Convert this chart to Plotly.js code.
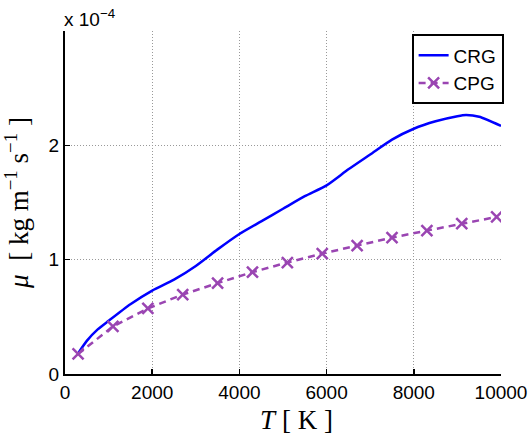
<!DOCTYPE html>
<html>
<head>
<meta charset="utf-8">
<script src="https://cdn.plot.ly/plotly-3.0.1.min.js"></script>
<style>
  html, body { margin: 0; padding: 0; background: #fff; }
  #chart { width: 530px; height: 446px; }
</style>
</head>
<body>
<div id="chart"></div>
<script>
// Viscosity of the gas vs temperature, values in units of 1e-4 kg m^-1 s^-1
const crgT  = [300, 500, 750, 1000, 1500, 2000, 2500, 3000, 3500, 4000, 4500, 5000,
               5500, 6000, 6500, 7000, 7500, 8000, 8500, 9000, 9200, 9500, 10000];
const crgMu = [0.18, 0.29, 0.39, 0.465, 0.61, 0.73, 0.825, 0.945, 1.09, 1.225, 1.335, 1.445,
               1.555, 1.65, 1.79, 1.92, 2.05, 2.145, 2.21, 2.255, 2.265, 2.25, 2.17];

const cpgT  = [300, 1100, 1900, 2700, 3500, 4300, 5100, 5900, 6700, 7500, 8300, 9100, 9900];
const cpgMu = [0.175, 0.416, 0.573, 0.695, 0.795, 0.891, 0.975, 1.053, 1.123, 1.193, 1.254, 1.315, 1.374];

const xTicks = [0, 2000, 4000, 6000, 8000, 10000];
const yTicks = [0, 1, 2];

const purple = '#9A45B2';

const traces = [
  {
    x: crgT, y: crgMu, name: 'CRG', type: 'scatter', mode: 'lines',
    line: { color: '#0000FF', width: 2.5, shape: 'spline', smoothing: 0.6 }
  },
  {
    x: cpgT, y: cpgMu, name: 'CPG', type: 'scatter', mode: 'lines+markers',
    line: { color: purple, width: 2.5, dash: '7px,5px' },
    marker: { symbol: 'x-thin', size: 11, line: { color: purple, width: 2.5 } }
  }
];

const sans = 'Liberation Sans';
const tickFont = { family: sans, size: 19, color: '#000' };
const titleFont = { family: 'Liberation Serif', size: 27, color: '#000' };
// padding run of no-break spaces, kept inside a span so the title is not trimmed
const pad = n => '<span>' + '\u00A0'.repeat(n) + '</span>';

const layout = {
  width: 530, height: 446,
  margin: { l: 65, r: 29, t: 31, b: 72 },
  paper_bgcolor: '#fff', plot_bgcolor: '#fff',
  font: { family: sans, size: 19, color: '#000' },
  showlegend: true,
  legend: {
    x: 0.795, y: 0.99, xanchor: 'left', yanchor: 'top',
    bgcolor: '#fff', bordercolor: '#000', borderwidth: 2,
    font: { family: sans, size: 19, color: '#000' },
    tracegroupgap: 0, itemwidth: 30
  },
  xaxis: {
    range: [0, 10000], tickvals: xTicks, ticktext: xTicks.map(String),
    showline: true, linecolor: '#000', linewidth: 2,
    ticks: 'inside', ticklen: 5, tickwidth: 1.5, tickcolor: '#000',
    showgrid: true, gridcolor: '#999', griddash: '1px,2px', gridwidth: 1,
    zeroline: false, tickfont: tickFont,
    title: { text: pad(4) + '<i>T</i> [ K ]', font: titleFont, standoff: 8 }
  },
  yaxis: {
    range: [0, 3], tickvals: yTicks, ticktext: yTicks.map(String),
    showline: true, linecolor: '#000', linewidth: 2,
    ticks: 'inside', ticklen: 5, tickwidth: 1.5, tickcolor: '#000',
    showgrid: true, gridcolor: '#999', griddash: '1px,2px', gridwidth: 1,
    zeroline: false, tickfont: tickFont,
    title: { text: '<i>μ</i>  [ kg m<sup>−1</sup> s<sup>−1</sup> ]', font: titleFont, standoff: 12 }
  },
  annotations: [{
    xref: 'paper', yref: 'paper', x: 0, y: 1, xanchor: 'left', yanchor: 'bottom',
    text: 'x 10<sup>−4</sup>', showarrow: false, yshift: -1, xshift: -3,
    font: { family: sans, size: 19, color: '#000' }
  }]
};

Plotly.newPlot('chart', traces, layout, { displayModeBar: false, staticPlot: true });
</script>
</body>
</html>
